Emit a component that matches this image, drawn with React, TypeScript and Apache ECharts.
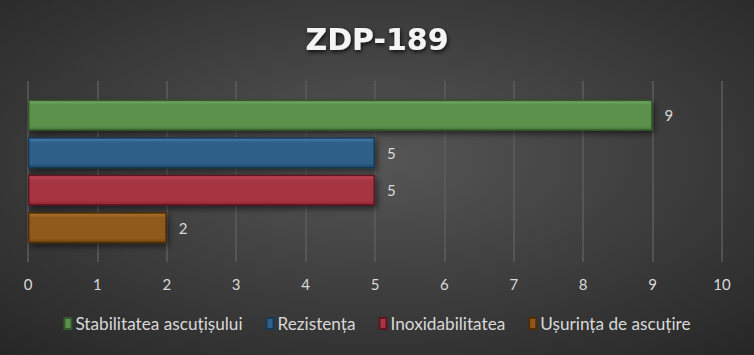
import React, { useEffect, useRef } from "react";
import * as echarts from "echarts";

const title = "ZDP-189";
const categories = ["ZDP-189"];
const seriesNames = ["Stabilitatea ascuțișului", "Rezistența", "Inoxidabilitatea", "Ușurința de ascuțire"];
const seriesValues = [9, 5, 5, 2];
const seriesColors = [
  ["#78b068", "#5b904d", "#4a7a3d"],
  ["#4682b2", "#2e6089", "#1f4b6e"],
  ["#c94e5c", "#a63443", "#8a2433"],
  ["#b07530", "#8f5a1c", "#764610"],
];
const seriesBorders = ["#35592b", "#173a57", "#5e1620", "#4f2e07"];
const xTicks = [0, 10];

export default function App() {
  const ref = useRef<HTMLDivElement>(null);
  useEffect(() => {
    document.body.style.margin = "0";
    const chart = echarts.init(ref.current!, null, { renderer: "svg" });
    const font = "Lato, 'Open Sans', sans-serif";
    chart.setOption({
      animation: false,
      backgroundColor: new echarts.graphic.RadialGradient(0.5, 0.45, 0.75, [
        { offset: 0, color: "#565656" },
        { offset: 1, color: "#262626" },
      ]),
      title: {
        text: title,
        left: "center",
        top: 19,
        textStyle: {
          color: "#f4f4f4",
          fontFamily: "'DejaVu Sans', sans-serif",
          fontWeight: "bold",
          fontSize: 30,
          textShadowColor: "rgba(0,0,0,0.8)",
          textShadowBlur: 4,
          textShadowOffsetX: 1,
          textShadowOffsetY: 2,
        },
      },
      legend: {
        bottom: 18,
        left: "center",
        itemWidth: 7,
        itemHeight: 11,
        itemGap: 23,
        icon: "rect",
        textStyle: { color: "#d9d9d9", fontFamily: font, fontSize: 17.2, padding: [0, 0, 0, -1] },
        data: seriesNames,
      },
      grid: { left: 28, right: 32, top: 81, bottom: 93 },
      xAxis: {
        type: "value",
        min: xTicks[0],
        max: xTicks[1],
        interval: 1,
        axisLine: { show: false },
        axisTick: { show: false },
        splitLine: { show: true, lineStyle: { color: "#5c5c5c", width: 1.5 } },
        axisLabel: { color: "#d9d9d9", fontFamily: font, fontSize: 15, margin: 14 },
      },
      yAxis: {
        type: "category",
        data: categories,
        inverse: true,
        axisLine: { show: false },
        axisTick: { show: false },
        axisLabel: { show: false },
      },
      series: seriesNames.map((name, i) => ({
        name,
        type: "bar",
        data: [seriesValues[i]],
        barWidth: 31,
        barGap: "21%",
        itemStyle: {
          color: new echarts.graphic.LinearGradient(0, 0, 0, 1, [
            { offset: 0, color: seriesColors[i][0] },
            { offset: 0.15, color: seriesColors[i][1] },
            { offset: 0.85, color: seriesColors[i][1] },
            { offset: 1, color: seriesColors[i][2] },
          ]),
          borderColor: seriesBorders[i],
          borderWidth: 1.5,
          shadowColor: "rgba(0,0,0,0.55)",
          shadowBlur: 6,
          shadowOffsetX: 2,
          shadowOffsetY: 3,
        },
        label: {
          show: true,
          position: "right",
          distance: 12,
          color: "#d9d9d9",
          fontFamily: font,
          fontSize: 15,
        },
      })),
    });
    return () => chart.dispose();
  }, []);
  return <div ref={ref} style={{ position: "absolute", left: 0, top: 0, width: 754, height: 355 }} />;
}
